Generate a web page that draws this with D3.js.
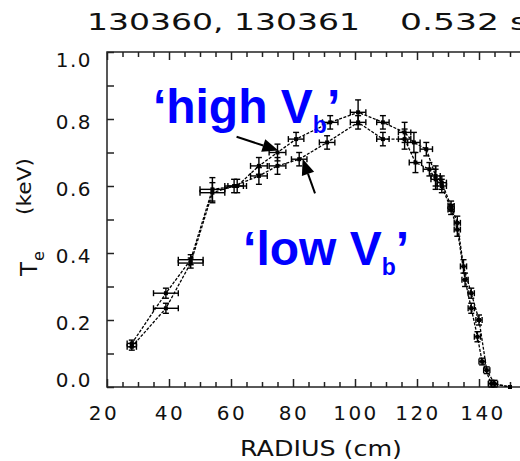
<!DOCTYPE html>
<html>
<head>
<meta charset="utf-8">
<script src="https://cdn.jsdelivr.net/npm/d3@7"></script>
<style>
  body { margin: 0; background: #fff; }
  svg { display: block; }
</style>
</head>
<body>
<script>
// Te profiles for shots 130360 / 130361 at 0.532 s
// 'high Vb' series
var radius_high = [28, 39, 47, 54, 62, 69, 75, 81, 92, 101, 109, 116, 119, 123, 126, 128, 131, 133, 135, 137.5, 140, 142.5, 145, 150];
var te_high     = [0.13, 0.28, 0.38, 0.59, 0.60, 0.66, 0.70, 0.74, 0.79, 0.82, 0.79, 0.76, 0.73, 0.71, 0.63, 0.61, 0.54, 0.49, 0.36, 0.28, 0.20, 0.05, 0.01, 0.0];
var rerr_high   = [1.5, 4, 4, 4, 3, 2.7, 2.7, 2.5, 2.5, 2.5, 2, 2, 2, 2, 1.5, 1.5, 1, 1, 1, 1, 1, 1, 1, 0];
var teerr_high  = [0.01, 0.015, 0.015, 0.035, 0.02, 0.025, 0.025, 0.02, 0.02, 0.037, 0.02, 0.03, 0.03, 0.02, 0.03, 0.02, 0.015, 0.02, 0.02, 0.015, 0.015, 0.01, 0.01, 0];

// 'low Vb' series
var radius_low = [28, 39, 47, 54, 61, 69, 75, 82, 91, 101, 109, 116, 119.5, 124, 126, 128, 131, 133, 135.5, 137.5, 139.5, 141, 144, 150];
var te_low     = [0.12, 0.235, 0.37, 0.58, 0.60, 0.63, 0.66, 0.68, 0.73, 0.79, 0.74, 0.74, 0.67, 0.65, 0.62, 0.60, 0.53, 0.47, 0.32, 0.235, 0.15, 0.076, 0.01, 0.0];
var rerr_low   = [1.5, 4, 4, 4, 3, 2.7, 2.7, 2.5, 2.5, 2.5, 2, 2, 2, 2, 1.5, 1.5, 1, 1, 1, 1, 1, 1, 1, 0];
var teerr_low  = [0.01, 0.015, 0.015, 0.03, 0.02, 0.025, 0.025, 0.02, 0.02, 0.02, 0.02, 0.03, 0.03, 0.02, 0.03, 0.02, 0.015, 0.02, 0.02, 0.015, 0.015, 0.01, 0.01, 0];

// tick values
var x_major = [20, 40, 60, 80, 100, 120, 140];
var x_minor = d3.range(25, 151, 5).filter(function(v) { return v % 20 != 0; });
var y_ticks = [0, 0.1, 0.2, 0.3, 0.4, 0.5, 0.6, 0.7, 0.8, 0.9, 1.0];
var y_labels = [0, 0.2, 0.4, 0.6, 0.8, 1.0];

// annotations: text anchor and arrows in data units
var label_high = {r: 34.8, te: 0.788, main: "\u2018high V", sub: "b"};
var label_low  = {r: 63.9, te: 0.364, main: "\u2018low V", sub: "b"};
var arrows = [
  {r0: 61.8, t0: 0.747, r1: 75.3, t1: 0.706},
  {r0: 87.1, t0: 0.578, r1: 83.1, t1: 0.681}
];

var width = 520, height = 461;
var plot = {left: 107, right: 510, top: 52, bottom: 387};

var svg = d3.select("body").append("svg")
  .attr("width", width)
  .attr("height", height);

var x = d3.scaleLinear().domain([20, 150]).range([plot.left, plot.right]);
var y = d3.scaleLinear().domain([0, 1]).range([plot.bottom, plot.top]);

var ink = "#111";
var axisFont = "'DejaVu Sans', Verdana, sans-serif";

// Title
svg.append("text")
  .attr("x", 87).attr("y", 30)
  .attr("textLength", 273).attr("lengthAdjust", "spacingAndGlyphs")
  .style("font-family", axisFont).style("font-size", "23px").style("fill", ink)
  .text("130360, 130361");
svg.append("text")
  .attr("x", 400).attr("y", 30)
  .attr("textLength", 128).attr("lengthAdjust", "spacingAndGlyphs")
  .style("font-family", axisFont).style("font-size", "23px").style("fill", ink)
  .text("0.532 s");

// Frame
svg.append("rect")
  .attr("x", x(20)).attr("y", y(1))
  .attr("width", x(155) - x(20)).attr("height", y(0) - y(1))
  .attr("fill", "none").attr("stroke", "#222").attr("stroke-width", 1.5);

// Ticks (inward), major + minor on bottom and top
function tickAxis(gen, values, size, ty) {
  var g = svg.append("g")
    .attr("transform", "translate(0," + ty + ")")
    .call(gen(x).tickValues(values).tickSize(size).tickFormat(""));
  g.select(".domain").remove();
  g.selectAll("line").attr("stroke", "#222").attr("stroke-width", 1.5);
  return g;
}
tickAxis(d3.axisBottom, x_major, -8, plot.bottom);
tickAxis(d3.axisBottom, x_minor, -5, plot.bottom);
tickAxis(d3.axisTop, x_major, -8, plot.top);
tickAxis(d3.axisTop, x_minor, -5, plot.top);

var yAxis = svg.append("g")
  .attr("transform", "translate(" + plot.left + ",0)")
  .call(d3.axisLeft(y).tickValues(y_ticks).tickSize(-7).tickFormat(""));
yAxis.select(".domain").remove();
yAxis.selectAll("line").attr("stroke", "#222").attr("stroke-width", 1.5);

// X tick labels
svg.append("g").selectAll("text")
  .data(x_major)
  .enter().append("text")
  .attr("x", function(d, i) { return x(d) + (i == 0 ? -3 : (i == x_major.length - 1 ? 4 : 1)); })
  .attr("y", 420)
  .attr("text-anchor", "middle")
  .style("font-family", axisFont).style("font-size", "20px")
  .style("letter-spacing", "2.5px").style("fill", ink)
  .text(function(d) { return d; });

// Y tick labels
svg.append("g").selectAll("text")
  .data(y_labels)
  .enter().append("text")
  .attr("x", 92)
  .attr("y", function(d) {
    var off = 3;
    if (d == 0) off = -7;
    if (d == 1) off = 8;
    return y(d) + off;
  })
  .attr("dy", "0.36em")
  .attr("text-anchor", "end")
  .style("font-family", axisFont).style("font-size", "20px")
  .style("letter-spacing", "1.5px").style("fill", ink)
  .text(function(d) { return d3.format(".1f")(d); });

// Axis titles
svg.append("text")
  .attr("x", 240).attr("y", 456)
  .attr("textLength", 162).attr("lengthAdjust", "spacingAndGlyphs")
  .style("font-family", axisFont).style("font-size", "22px").style("fill", ink)
  .text("RADIUS (cm)");

var yt = svg.append("text")
  .attr("transform", "translate(37,276) rotate(-90)")
  .style("font-family", axisFont).style("fill", ink);
yt.append("tspan").style("font-size", "23px").text("T");
yt.append("tspan").attr("dy", 7).attr("dx", 1).style("font-size", "16px").text("e");
svg.append("text")
  .attr("transform", "translate(31,215) rotate(-90)")
  .attr("textLength", 57).attr("lengthAdjust", "spacingAndGlyphs")
  .style("font-family", axisFont).style("font-size", "20px").style("fill", ink)
  .text("(keV)");

// Data series
function drawSeries(rs, ts, re, te) {
  var pts = rs.map(function(r, i) { return {r: r, t: ts[i], er: re[i], et: te[i]}; });
  var line = d3.line()
    .x(function(d) { return x(d.r); })
    .y(function(d) { return y(d.t); });

  svg.append("path")
    .datum(pts)
    .attr("d", line)
    .attr("fill", "none")
    .attr("stroke", "#000")
    .attr("stroke-width", 1.3)
    .attr("stroke-dasharray", "3,1.5");

  var g = svg.append("g").attr("stroke", "#000").attr("stroke-width", 1.4);
  var bars = g.selectAll("g.pt").data(pts).enter().append("g").attr("class", "pt");
  // horizontal error
  bars.append("line")
    .attr("x1", function(d) { return x(d.r - d.er); })
    .attr("x2", function(d) { return x(d.r + d.er); })
    .attr("y1", function(d) { return y(d.t); })
    .attr("y2", function(d) { return y(d.t); });
  // vertical error
  bars.append("line")
    .attr("x1", function(d) { return x(d.r); })
    .attr("x2", function(d) { return x(d.r); })
    .attr("y1", function(d) { return y(d.t - d.et); })
    .attr("y2", function(d) { return y(d.t + d.et); });
  // caps
  [-1, 1].forEach(function(s) {
    bars.filter(function(d) { return d.er > 0; }).append("line")
      .attr("x1", function(d) { return x(d.r + s * d.er); })
      .attr("x2", function(d) { return x(d.r + s * d.er); })
      .attr("y1", function(d) { return y(d.t) - 3; })
      .attr("y2", function(d) { return y(d.t) + 3; });
    bars.filter(function(d) { return d.et > 0; }).append("line")
      .attr("x1", function(d) { return x(d.r) - 3; })
      .attr("x2", function(d) { return x(d.r) + 3; })
      .attr("y1", function(d) { return y(d.t + s * d.et); })
      .attr("y2", function(d) { return y(d.t + s * d.et); });
  });
  // point marker
  svg.append("g").selectAll("rect")
    .data(pts).enter().append("rect")
    .attr("x", function(d) { return x(d.r) - 2; })
    .attr("y", function(d) { return y(d.t) - 2; })
    .attr("width", 4).attr("height", 4)
    .attr("fill", "#000");
}
drawSeries(radius_high, te_high, rerr_high, teerr_high);
drawSeries(radius_low, te_low, rerr_low, teerr_low);

// Arrows
arrows.forEach(function(a) {
  var x0 = x(a.r0), y0 = y(a.t0), x1 = x(a.r1), y1 = y(a.t1);
  var dx = x1 - x0, dy = y1 - y0, len = Math.sqrt(dx * dx + dy * dy);
  var ux = dx / len, uy = dy / len;
  var hl = 16, hw = 6.5;
  var bx = x1 - ux * hl, by = y1 - uy * hl;
  svg.append("line")
    .attr("x1", x0).attr("y1", y0).attr("x2", bx).attr("y2", by)
    .attr("stroke", "#000").attr("stroke-width", 2);
  svg.append("polygon")
    .attr("points", [
      [x1, y1],
      [bx - uy * hw, by + ux * hw],
      [bx + uy * hw, by - ux * hw]
    ].map(function(p) { return p.join(","); }).join(" "))
    .attr("fill", "#000");
});

// Blue labels
function blueLabel(lab) {
  var t = svg.append("text")
    .attr("x", x(lab.r)).attr("y", y(lab.te))
    .style("font-family", "'Liberation Sans', Arial, sans-serif")
    .style("font-weight", "bold")
    .style("fill", "#0000ff");
  t.append("tspan").style("font-size", "48px").text(lab.main);
  t.append("tspan").attr("dy", 10).style("font-size", "23px").text(lab.sub);
  t.append("tspan").attr("dy", -10).style("font-size", "48px").text("\u2019");
}
blueLabel(label_high);
blueLabel(label_low);
</script>
</body>
</html>
